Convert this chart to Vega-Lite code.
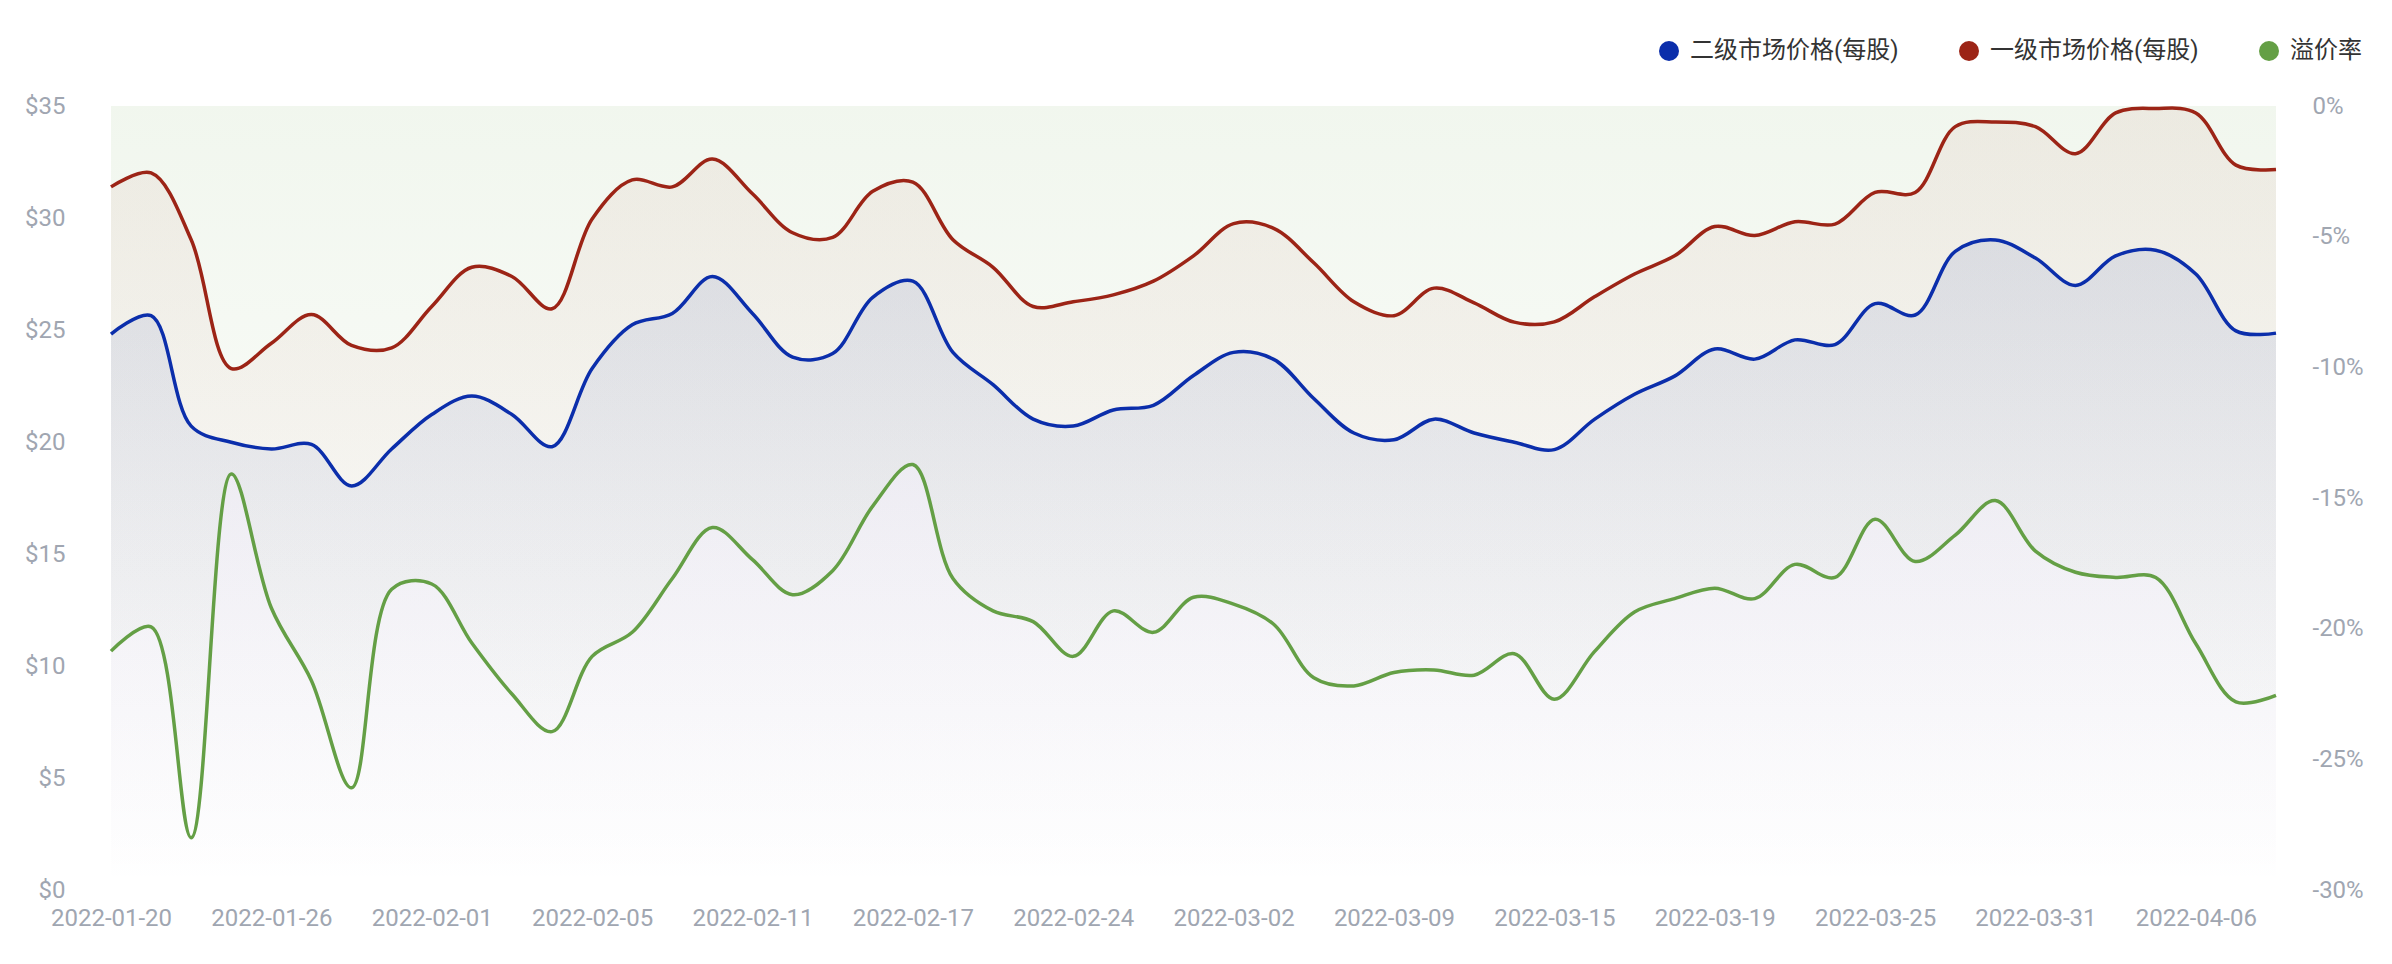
{
  "$schema": "https://vega.github.io/schema/vega-lite/v6.json",
  "autosize": {"type": "none"},
  "padding": {"left": 111, "top": 106, "right": 116, "bottom": 74},
  "width": 2165,
  "height": 784,
  "background": "#ffffff",
  "config": {
    "view": {"stroke": null},
    "font": "Roboto, 'Noto Sans CJK SC'",
    "axis": {"grid": false, "domain": false, "ticks": false, "tickSize": 0, "labelFont": "Roboto", "labelFontSize": 24, "labelColor": "#a0a6b1", "title": null}
  },
  "data": {"values": [
    {"date": "2022-01-20", "p1": 31.39, "p2": 24.82, "prem": -20.86},
    {"date": "2022-01-21", "p1": 32.01, "p2": 25.64, "prem": -19.93},
    {"date": "2022-01-24", "p1": 29.03, "p2": 20.71, "prem": -28.0},
    {"date": "2022-01-25", "p1": 23.28, "p2": 19.99, "prem": -14.08},
    {"date": "2022-01-26", "p1": 24.41, "p2": 19.69, "prem": -19.21},
    {"date": "2022-01-27", "p1": 25.69, "p2": 19.89, "prem": -21.99},
    {"date": "2022-01-28", "p1": 24.31, "p2": 18.04, "prem": -26.09},
    {"date": "2022-01-31", "p1": 24.2, "p2": 19.69, "prem": -18.49},
    {"date": "2022-02-01", "p1": 26.05, "p2": 21.23, "prem": -18.29},
    {"date": "2022-02-02", "p1": 27.8, "p2": 22.05, "prem": -20.55},
    {"date": "2022-02-03", "p1": 27.39, "p2": 21.23, "prem": -22.5},
    {"date": "2022-02-04", "p1": 25.95, "p2": 19.79, "prem": -23.94},
    {"date": "2022-02-05", "p1": 29.96, "p2": 23.28, "prem": -21.06},
    {"date": "2022-02-07", "p1": 31.7, "p2": 25.23, "prem": -20.14},
    {"date": "2022-02-08", "p1": 31.39, "p2": 25.74, "prem": -18.08},
    {"date": "2022-02-10", "p1": 32.63, "p2": 27.39, "prem": -16.13},
    {"date": "2022-02-11", "p1": 31.08, "p2": 25.74, "prem": -17.36},
    {"date": "2022-02-14", "p1": 29.34, "p2": 23.79, "prem": -18.7},
    {"date": "2022-02-15", "p1": 29.13, "p2": 23.95, "prem": -17.78},
    {"date": "2022-02-16", "p1": 31.19, "p2": 26.46, "prem": -15.31},
    {"date": "2022-02-17", "p1": 31.6, "p2": 27.18, "prem": -13.72},
    {"date": "2022-02-18", "p1": 29.03, "p2": 24.0, "prem": -18.08},
    {"date": "2022-02-22", "p1": 27.8, "p2": 22.56, "prem": -19.32},
    {"date": "2022-02-23", "p1": 26.05, "p2": 21.02, "prem": -19.73},
    {"date": "2022-02-24", "p1": 26.26, "p2": 20.71, "prem": -21.06},
    {"date": "2022-02-25", "p1": 26.57, "p2": 21.43, "prem": -19.32},
    {"date": "2022-02-28", "p1": 27.18, "p2": 21.64, "prem": -20.14},
    {"date": "2022-03-01", "p1": 28.31, "p2": 22.97, "prem": -18.8},
    {"date": "2022-03-02", "p1": 29.75, "p2": 24.0, "prem": -19.06},
    {"date": "2022-03-03", "p1": 29.54, "p2": 23.69, "prem": -19.83},
    {"date": "2022-03-04", "p1": 28.0, "p2": 21.94, "prem": -21.88},
    {"date": "2022-03-07", "p1": 26.26, "p2": 20.4, "prem": -22.19},
    {"date": "2022-03-09", "p1": 25.64, "p2": 20.1, "prem": -21.68},
    {"date": "2022-03-10", "p1": 26.87, "p2": 21.02, "prem": -21.58},
    {"date": "2022-03-11", "p1": 26.21, "p2": 20.4, "prem": -21.78},
    {"date": "2022-03-14", "p1": 25.35, "p2": 19.99, "prem": -20.96},
    {"date": "2022-03-15", "p1": 25.36, "p2": 19.66, "prem": -22.7},
    {"date": "2022-03-16", "p1": 26.48, "p2": 21.01, "prem": -20.88},
    {"date": "2022-03-17", "p1": 27.5, "p2": 22.13, "prem": -19.36},
    {"date": "2022-03-18", "p1": 28.31, "p2": 22.94, "prem": -18.85},
    {"date": "2022-03-19", "p1": 29.62, "p2": 24.15, "prem": -18.45},
    {"date": "2022-03-21", "p1": 29.22, "p2": 23.7, "prem": -18.85},
    {"date": "2022-03-22", "p1": 29.83, "p2": 24.56, "prem": -17.54},
    {"date": "2022-03-23", "p1": 29.73, "p2": 24.35, "prem": -18.04},
    {"date": "2022-03-25", "p1": 31.14, "p2": 26.18, "prem": -15.81},
    {"date": "2022-03-28", "p1": 31.14, "p2": 25.67, "prem": -17.43},
    {"date": "2022-03-29", "p1": 34.08, "p2": 28.51, "prem": -16.42},
    {"date": "2022-03-30", "p1": 34.29, "p2": 29.02, "prem": -15.1},
    {"date": "2022-03-31", "p1": 34.08, "p2": 28.21, "prem": -17.03},
    {"date": "2022-04-01", "p1": 32.87, "p2": 26.99, "prem": -17.84},
    {"date": "2022-04-04", "p1": 34.69, "p2": 28.31, "prem": -18.04},
    {"date": "2022-04-05", "p1": 34.89, "p2": 28.56, "prem": -18.04},
    {"date": "2022-04-06", "p1": 34.69, "p2": 27.5, "prem": -20.58},
    {"date": "2022-04-07", "p1": 32.36, "p2": 24.96, "prem": -22.8},
    {"date": "2022-04-08", "p1": 32.16, "p2": 24.86, "prem": -22.55}
  ]},
  "encoding": {
    "x": {
      "field": "date", "type": "ordinal",
      "scale": {"type": "point", "padding": 0},
      "axis": {
        "values": ["2022-01-20", "2022-01-26", "2022-02-01", "2022-02-05", "2022-02-11", "2022-02-17", "2022-02-24", "2022-03-02", "2022-03-09", "2022-03-15", "2022-03-19", "2022-03-25", "2022-03-31", "2022-04-06"],
        "labelAngle": 0, "labelPadding": 16, "labelBaseline": "top"
      }
    }
  },
  "layer": [
    {
      "mark": {"type": "area", "interpolate": "catmull-rom",
        "color": {"gradient": "linear", "x1": 0, "y1": 0, "x2": 0, "y2": 1,
          "stops": [{"offset": 0, "color": "rgba(100,160,67,0.09)"}, {"offset": 1, "color": "rgba(100,160,67,0.0)"}]}},
      "encoding": {
        "y": {"field": "prem", "type": "quantitative", "scale": {"domain": [-30, 0], "nice": false},
          "axis": {"orient": "right", "values": [-30, -25, -20, -15, -10, -5, 0], "labelExpr": "datum.value + '%'", "labelPadding": 36, "labelAlign": "left"}},
        "y2": {"datum": 0}
      }
    },
    {
      "layer": [
        {
          "mark": {"type": "area", "interpolate": "catmull-rom",
            "color": {"gradient": "linear", "x1": 0, "y1": 0, "x2": 0, "y2": 1,
              "stops": [{"offset": 0, "color": "rgba(158,36,20,0.06)"}, {"offset": 1, "color": "rgba(158,36,20,0.0)"}]}},
          "encoding": {"y": {"field": "p1", "type": "quantitative", "scale": {"domain": [0, 35], "nice": false},
            "axis": {"orient": "left", "values": [0, 5, 10, 15, 20, 25, 30, 35], "labelExpr": "'$' + datum.value", "labelPadding": 46}}}
        },
        {
          "mark": {"type": "area", "interpolate": "catmull-rom",
            "color": {"gradient": "linear", "x1": 0, "y1": 0, "x2": 0, "y2": 1,
              "stops": [{"offset": 0, "color": "rgba(11,46,171,0.09)"}, {"offset": 1, "color": "rgba(11,46,171,0.0)"}]}},
          "encoding": {"y": {"field": "p2", "type": "quantitative", "scale": {"domain": [0, 35], "nice": false},
            "axis": {"orient": "left", "values": [0, 5, 10, 15, 20, 25, 30, 35], "labelExpr": "'$' + datum.value", "labelPadding": 46}}}
        },
        {
          "mark": {"type": "line", "interpolate": "catmull-rom", "strokeWidth": 3.5},
          "encoding": {
            "y": {"field": "p1", "type": "quantitative", "scale": {"domain": [0, 35], "nice": false},
              "axis": {"orient": "left", "values": [0, 5, 10, 15, 20, 25, 30, 35], "labelExpr": "'$' + datum.value", "labelPadding": 46}},
            "color": {"datum": "一级市场价格(每股)", "type": "nominal",
              "scale": {"domain": ["二级市场价格(每股)", "一级市场价格(每股)", "溢价率"], "range": ["#0b2eab", "#9c2416", "#649f45"]}}
          }
        },
        {
          "mark": {"type": "line", "interpolate": "catmull-rom", "strokeWidth": 3.5},
          "encoding": {
            "y": {"field": "p2", "type": "quantitative", "scale": {"domain": [0, 35], "nice": false},
              "axis": {"orient": "left", "values": [0, 5, 10, 15, 20, 25, 30, 35], "labelExpr": "'$' + datum.value", "labelPadding": 46}},
            "color": {"datum": "二级市场价格(每股)", "type": "nominal",
              "scale": {"domain": ["二级市场价格(每股)", "一级市场价格(每股)", "溢价率"], "range": ["#0b2eab", "#9c2416", "#649f45"]}}
          }
        }
      ]
    },
    {
      "mark": {"type": "line", "interpolate": "catmull-rom", "strokeWidth": 3.5},
      "encoding": {
        "y": {"field": "prem", "type": "quantitative", "scale": {"domain": [-30, 0], "nice": false}, "axis": null},
        "color": {"datum": "溢价率", "type": "nominal",
          "scale": {"domain": ["二级市场价格(每股)", "一级市场价格(每股)", "溢价率"], "range": ["#0b2eab", "#9c2416", "#649f45"]},
          "legend": {
            "title": null, "orient": "none", "legendX": 1546, "legendY": -67, "direction": "horizontal",
            "padding": 0, "symbolType": "circle", "symbolSize": 400, "symbolStrokeWidth": 0,
            "labelFontSize": 24, "labelColor": "#333333", "labelFont": "Roboto, 'Noto Sans CJK SC'", "labelLimit": 0,
            "labelOffset": 9, "columnPadding": 58,
            "encode": {"symbols": {"update": {"fill": {"scale": "color", "field": "value"}, "opacity": {"value": 1}}}}
          }
        }
      }
    }
  ],
  "resolve": {"scale": {"y": "independent"}}
}
